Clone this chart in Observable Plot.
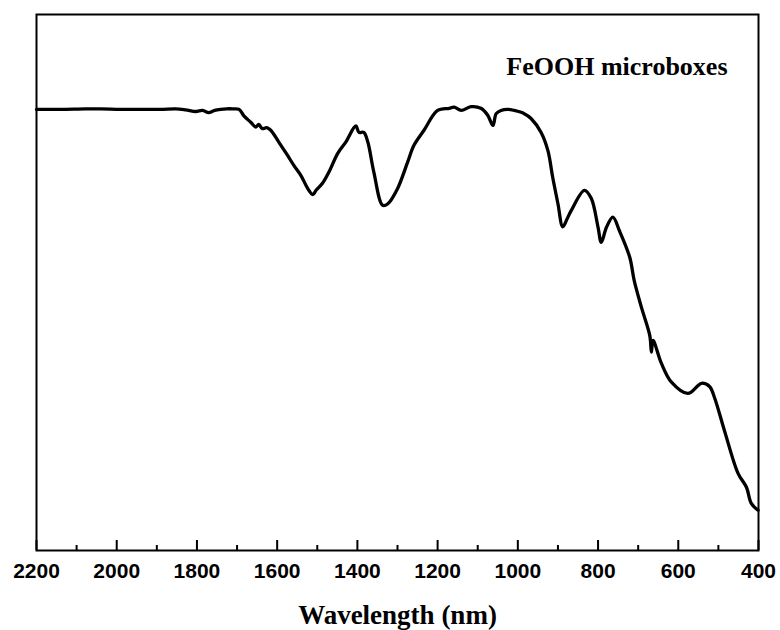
<!DOCTYPE html>
<html>
<head>
<meta charset="utf-8">
<script src="https://cdn.jsdelivr.net/npm/d3@7"></script>
<script src="https://cdn.jsdelivr.net/npm/@observablehq/plot@0.6"></script>
<style>
  body { margin: 0; background: #fff; }
  #chart svg { display: block; }
</style>
</head>
<body>
<div id="chart"></div>
<script>
// UV-Vis-NIR absorption spectrum of FeOOH microboxes (arbitrary absorbance units)
const wavelength = [
  2200, 2140, 2078, 2040, 1990, 1940, 1890, 1853, 1828, 1803, 1786, 1771, 1756, 1741, 1726, 1711,
  1695, 1683, 1666, 1653, 1646, 1637, 1626, 1616, 1596, 1574, 1558, 1541, 1528, 1521, 1511, 1503,
  1487, 1471, 1449, 1429, 1404, 1396, 1384, 1374, 1359, 1337, 1324, 1300, 1275, 1259, 1234, 1200,
  1171, 1159, 1141, 1117, 1092, 1075, 1062, 1054, 1042, 1024, 1009, 984, 967, 942, 925, 913,
  900, 888, 877, 867, 834, 817, 800, 792, 779, 763, 747, 721, 710, 692, 671, 667,
  663, 642, 617, 576, 542, 522, 510, 485, 451, 430, 418, 401
];
const absorbance = [
  0.823, 0.823, 0.824, 0.824, 0.823, 0.823, 0.823, 0.824, 0.822, 0.819, 0.821, 0.817, 0.821, 0.823, 0.824, 0.824,
  0.823, 0.811, 0.799, 0.790, 0.795, 0.787, 0.789, 0.784, 0.762, 0.737, 0.718, 0.700, 0.681, 0.672, 0.664, 0.672,
  0.685, 0.706, 0.741, 0.762, 0.792, 0.780, 0.780, 0.762, 0.706, 0.644, 0.647, 0.675, 0.724, 0.756, 0.784, 0.821,
  0.825, 0.827, 0.821, 0.828, 0.825, 0.812, 0.793, 0.815, 0.821, 0.823, 0.821, 0.815, 0.806, 0.780, 0.746, 0.696,
  0.647, 0.604, 0.619, 0.634, 0.672, 0.657, 0.603, 0.575, 0.603, 0.622, 0.597, 0.547, 0.504, 0.454, 0.401, 0.370,
  0.392, 0.349, 0.314, 0.293, 0.312, 0.306, 0.286, 0.224, 0.144, 0.118, 0.088, 0.075
];
const majorTicks = [2200, 2000, 1800, 1600, 1400, 1200, 1000, 800, 600, 400];
const minorTicks = [2100, 1900, 1700, 1500, 1300, 1100, 900, 700, 500];
const sampleLabel = "FeOOH microboxes";
const xLabel = "Wavelength (nm)";

const spectrum = wavelength.map((w, i) => ({wavelength: w, absorbance: absorbance[i]}));

const sans = "'Liberation Sans', Arial, sans-serif";
const serif = "'Liberation Serif', 'Times New Roman', serif";

const W = 780, H = 630;
const margin = {top: 14, right: 22, bottom: 80, left: 36};
const frameHeight = H - margin.top - margin.bottom;

const chart = Plot.plot({
  width: W,
  height: H,
  marginLeft: margin.left,
  marginRight: margin.right,
  marginTop: margin.top,
  marginBottom: margin.bottom,
  style: {background: "#fff", color: "#000"},
  x: {domain: [2200, 400]},
  y: {domain: [0, 1], axis: null},
  marks: [
    // inward-pointing ticks standing on the bottom edge of the frame
    Plot.tickX(majorTicks, {x: d => d, insetTop: frameHeight - 10, stroke: "#000", strokeWidth: 2}),
    Plot.tickX(minorTicks, {x: d => d, insetTop: frameHeight - 5, stroke: "#000", strokeWidth: 2}),
    // tick labels
    Plot.axisX({
      ticks: majorTicks, tickSize: 0, tickPadding: 13, tickFormat: d => String(d), label: null,
      fontSize: 21, fontWeight: "bold", fontFamily: sans
    }),
    Plot.line(spectrum, {
      x: "wavelength", y: "absorbance", stroke: "#000", strokeWidth: 3.3,
      curve: "catmull-rom", strokeLinejoin: "round", strokeLinecap: "round"
    }),
    Plot.frame({stroke: "#000", strokeWidth: 2}),
    Plot.text([sampleLabel], {
      frameAnchor: "top-right", dx: -31, dy: 60, textAnchor: "end", lineAnchor: "bottom",
      fontSize: 26, fontWeight: "bold", fontFamily: serif, fill: "#000"
    }),
    Plot.text([xLabel], {
      frameAnchor: "bottom", dy: 73, lineAnchor: "bottom",
      fontSize: 27, fontWeight: "bold", fontFamily: serif, fill: "#000"
    })
  ]
});

document.getElementById("chart").appendChild(chart);
</script>
</body>
</html>
